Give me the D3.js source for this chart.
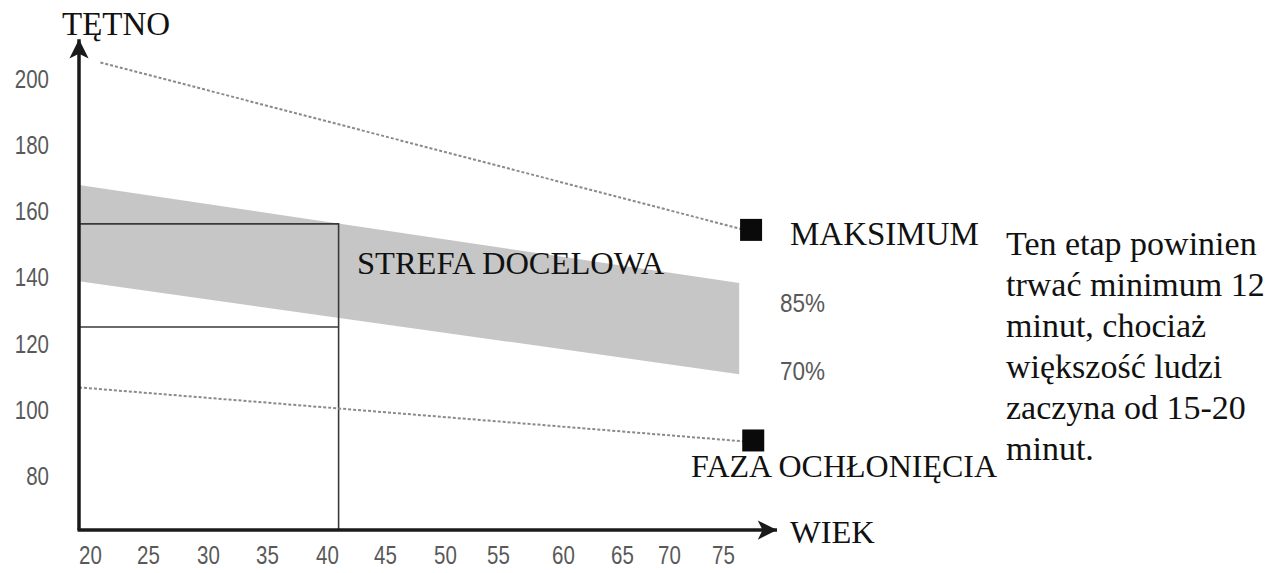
<!DOCTYPE html>
<html>
<head>
<meta charset="utf-8">
<script src="https://cdn.jsdelivr.net/npm/d3@7"></script>
<style>
  body { margin: 0; background: #fff; }
  svg { display: block; }
</style>
</head>
<body>
<svg></svg>
<script>
// tick labels
var xTicks = [20, 25, 30, 35, 40, 45, 50, 55, 60, 65, 70, 75];
var yTicks = [80, 100, 120, 140, 160, 180, 200];

// max heart rate line (dotted)
var maxAge = [20.9, 77.6], maxHr = [205, 154];
// cool-down line (dotted)
var coolAge = [19, 77.8], coolHr = [107, 90.5];
// target zone band 70% - 85%
var zoneAge = [19, 76.5], zoneHigh = [168, 138.5], zoneLow = [139, 111];
// square markers
var markAge = [77.6, 77.8], markHr = [154.5, 91];
// example box (age 40, 70% / 85%)
var boxAge = 41, boxHigh = 156.3, boxLow = 125.2;

var svgWidth = 1268, svgHeight = 573;

var svg = d3.select('svg')
    .attr('width', svgWidth)
    .attr('height', svgHeight);

// the original axis has unevenly spaced labels, so the scale is piecewise
var x = d3.scaleLinear()
    .domain([19, 20, 25, 30, 35, 40, 45, 50, 55, 60, 65, 70, 75, 80])
    .range([79, 90, 148, 208, 267, 327, 385, 445, 498, 563, 622, 669, 723, 777]);

var y = d3.scaleLinear()
    .domain([64, 200])
    .range([530, 79]);

var tickFont = '"Liberation Sans Narrow", "Arial Narrow", "Liberation Sans", sans-serif';
var serif = '"Liberation Serif", "Times New Roman", serif';

// narrow look for the sans labels (no condensed font installed)
function narrow(sel) {
    sel.attr('textLength', function() { return this.textContent.length * 11.4; })
       .attr('lengthAdjust', 'spacingAndGlyphs');
}

// band
var band = d3.area()
    .x(function(d) { return x(d.age); })
    .y0(function(d) { return y(d.low); })
    .y1(function(d) { return y(d.high); });

svg.append('path')
    .datum(zoneAge.map(function(a, i) { return {age: a, high: zoneHigh[i], low: zoneLow[i]}; }))
    .attr('d', band)
    .attr('fill', '#c6c6c6');

// box
svg.append('path')
    .attr('d', 'M' + x(19) + ',' + y(boxHigh) + 'H' + x(boxAge) + 'V' + y(64))
    .attr('fill', 'none')
    .attr('stroke', '#3a3a3a')
    .attr('stroke-width', 1.6);

svg.append('line')
    .attr('x1', x(19)).attr('x2', x(boxAge))
    .attr('y1', y(boxLow)).attr('y2', y(boxLow))
    .attr('stroke', '#3a3a3a')
    .attr('stroke-width', 1.6);

// dotted lines
var line = d3.line()
    .x(function(d) { return x(d[0]); })
    .y(function(d) { return y(d[1]); });

[[maxAge, maxHr], [coolAge, coolHr]].forEach(function(s) {
    svg.append('path')
        .datum(d3.zip(s[0], s[1]))
        .attr('d', line)
        .attr('fill', 'none')
        .attr('stroke', '#8a8a8a')
        .attr('stroke-width', 2)
        .attr('stroke-dasharray', '3,2');
});

// markers
svg.selectAll('rect.mark')
    .data(d3.zip(markAge, markHr))
    .enter()
    .append('rect')
    .attr('class', 'mark')
    .attr('x', function(d) { return x(d[0]) - 11; })
    .attr('y', function(d) { return y(d[1]) - 11; })
    .attr('width', 22)
    .attr('height', 22)
    .attr('fill', '#0a0a0a');

// axes lines with arrows
var defs = svg.append('defs');
defs.append('marker')
    .attr('id', 'arrow')
    .attr('viewBox', '0 0 10 10')
    .attr('refX', 10).attr('refY', 5)
    .attr('markerWidth', 7.5).attr('markerHeight', 5.5)
    .attr('markerUnits', 'strokeWidth')
    .attr('orient', 'auto')
    .append('path')
    .attr('d', 'M0,0L10,5L0,10L2.5,5Z')
    .attr('fill', '#1a1a1a');

svg.append('line')
    .attr('x1', x(19)).attr('x2', x(19))
    .attr('y1', y(64)).attr('y2', y(212))
    .attr('stroke', '#1a1a1a')
    .attr('stroke-width', 3.5)
    .attr('marker-end', 'url(#arrow)');

svg.append('line')
    .attr('x1', x(19) - 1.5).attr('x2', x(80))
    .attr('y1', y(64)).attr('y2', y(64))
    .attr('stroke', '#1a1a1a')
    .attr('stroke-width', 3.5)
    .attr('marker-end', 'url(#arrow)');

// tick labels via axes
var xAxis = svg.append('g')
    .attr('transform', 'translate(0,' + y(64) + ')')
    .call(d3.axisBottom(x).tickValues(xTicks).tickSize(0).tickPadding(16));

var yAxis = svg.append('g')
    .attr('transform', 'translate(' + x(19) + ',0)')
    .call(d3.axisLeft(y).tickValues(yTicks).tickSize(0).tickPadding(30));

[xAxis, yAxis].forEach(function(g) {
    g.select('.domain').remove();
    g.selectAll('text')
        .attr('font-family', tickFont)
        .attr('font-size', '25px')
        .attr('fill', '#595959')
        .call(narrow);
});

// axis titles
svg.append('text')
    .attr('x', 62).attr('y', 35)
    .attr('font-family', serif)
    .attr('font-size', '33px')
    .attr('fill', '#111')
    .text('TĘTNO');

svg.append('text')
    .attr('x', 790).attr('y', 543)
    .attr('font-family', serif)
    .attr('font-size', '32.5px')
    .attr('fill', '#111')
    .text('WIEK');

// annotations
var notes = [
    {t: 'STREFA DOCELOWA', x: 357, y: 274, s: 32.5},
    {t: 'MAKSIMUM', x: 790, y: 245, s: 33},
    {t: 'FAZA OCHŁONIĘCIA', x: 691, y: 477, s: 32}
];
svg.selectAll('text.note')
    .data(notes)
    .enter()
    .append('text')
    .attr('class', 'note')
    .attr('x', function(d) { return d.x; })
    .attr('y', function(d) { return d.y; })
    .attr('font-family', serif)
    .attr('font-size', function(d) { return d.s + 'px'; })
    .attr('fill', '#111')
    .text(function(d) { return d.t; });

svg.selectAll('text.pct')
    .data([{t: '85%', y: 312}, {t: '70%', y: 380}])
    .enter()
    .append('text')
    .attr('class', 'pct')
    .attr('x', 780)
    .attr('y', function(d) { return d.y; })
    .attr('font-family', tickFont)
    .attr('font-size', '25px')
    .attr('fill', '#595959')
    .text(function(d) { return d.t; })
    .attr('textLength', 45)
    .attr('lengthAdjust', 'spacingAndGlyphs');

var para = ['Ten etap powinien', 'trwać minimum 12', 'minut, chociaż',
            'większość ludzi', 'zaczyna od 15-20', 'minut.'];
svg.append('text')
    .attr('font-family', serif)
    .attr('font-size', '34px')
    .attr('fill', '#111')
    .selectAll('tspan')
    .data(para)
    .enter()
    .append('tspan')
    .attr('x', 1006)
    .attr('y', function(d, i) { return 255 + i * 41; })
    .text(function(d) { return d; });
</script>
</body>
</html>
